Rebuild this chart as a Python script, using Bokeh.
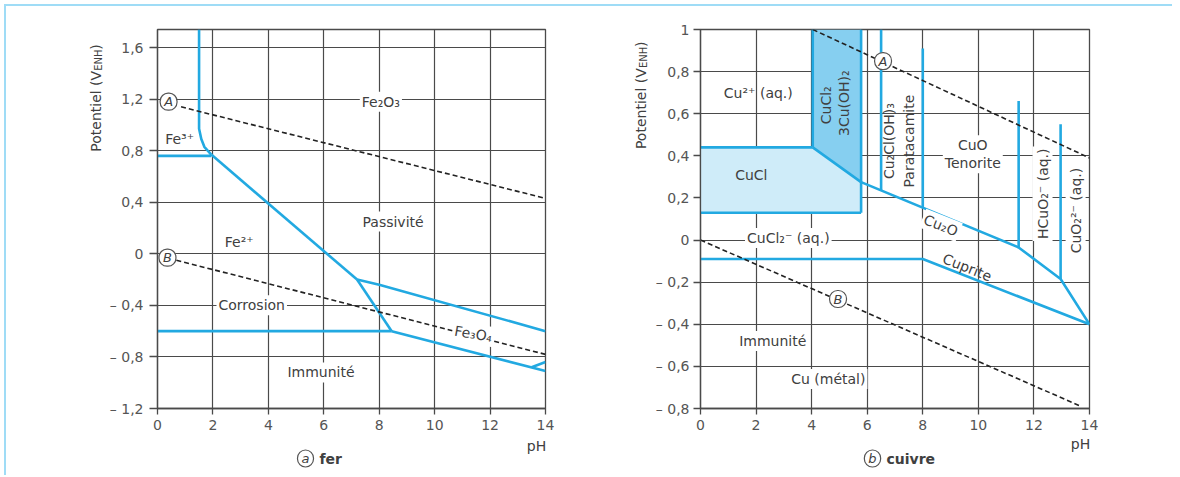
import math
from bokeh.plotting import figure
from bokeh.layouts import row, column
from bokeh.models import Label, FixedTicker, CustomJSTickFormatter, Range1d
from bokeh.embed import file_html
from bokeh.resources import INLINE

FONT = "DejaVu Sans"
BLUE = "#22a9e1"
LIGHT = "#cfecf9"
DARK = "#86cff0"
GRID = "#4a4a4a"
TEXT = "#404040"

# ---------------- data : (a) fer ----------------
fe_ph_ticks = [0, 2, 4, 6, 8, 10, 12, 14]
fe_e_ticks = [-1.2, -0.8, -0.4, 0, 0.4, 0.8, 1.2, 1.6]
fe_e_range = [-1.2, 1.74]

fe_lines_ph = [
    [1.5, 1.5, 1.58, 1.69, 1.94],      # Fe3+ / Fe2O3
    [0, 1.94],                          # Fe3+ / Fe2+
    [1.94, 7.2],                        # Fe2+ / Fe2O3
    [7.2, 8.0, 14],                     # Fe2O3 / Fe3O4
    [7.2, 8.45],                        # Fe2+ / Fe3O4
    [0, 8.45],                          # Fe2+ / Fe
    [8.45, 14],                         # Fe3O4 / Fe
    [13.5, 14],                         # HFeO2-
]
fe_lines_e = [
    [1.74, 0.97, 0.89, 0.83, 0.77],
    [0.76, 0.76],
    [0.77, -0.2],
    [-0.2, -0.24, -0.6],
    [-0.2, -0.6],
    [-0.6, -0.6],
    [-0.6, -0.91],
    [-0.88, -0.84],
]
fe_A_ph = [0.85, 14]
fe_A_e = [1.14, 0.43]
fe_B_ph = [0.68, 14]
fe_B_e = [-0.05, -0.78]

# ---------------- data : (b) cuivre ----------------
cu_ph_ticks = [0, 2, 4, 6, 8, 10, 12, 14]
cu_e_ticks = [-0.8, -0.6, -0.4, -0.2, 0, 0.2, 0.4, 0.6, 0.8, 1.0]
cu_e_range = [-0.8, 1.0]

cucl_poly_ph = [0, 4.04, 5.78, 5.78, 0]
cucl_poly_e = [0.44, 0.44, 0.275, 0.13, 0.13]
atac_poly_ph = [4.04, 5.78, 5.78, 4.04]
atac_poly_e = [1.0, 1.0, 0.275, 0.44]

cu_lines_ph = [
    [0, 4.04],
    [0, 5.78],
    [4.04, 4.04],
    [5.78, 5.78],
    [4.04, 5.78, 11.45, 12.96, 14],
    [0, 8, 14],
    [6.5, 6.5],
    [8, 8],
    [11.45, 11.45],
    [12.96, 12.96],
]
cu_lines_e = [
    [0.44, 0.44],
    [0.13, 0.13],
    [0.44, 1.0],
    [0.13, 1.0],
    [0.44, 0.275, -0.035, -0.185, -0.40],
    [-0.09, -0.09, -0.40],
    [0.236, 1.0],
    [0.154, 0.91],
    [-0.035, 0.66],
    [-0.185, 0.55],
]
cu_A_ph = [4.04, 14]
cu_A_e = [1.0, 0.39]
cu_B_ph = [0, 13.7]
cu_B_e = [0, -0.79]

TICKFMT = """
const v = Math.round(tick*10)/10;
const a = Math.abs(v);
const s = Number.isInteger(a) ? a.toFixed(0) : a.toFixed(1).replace('.', ',');
return (v < 0 ? '\\u2013 ' : '') + s;
"""

H = 431      # height of the chart row
CAP_H = 38   # height of the caption strip


def make_fig(width, xticks, erange, eticks, mb_left, mb_right, mb_top, mb_bottom,
             ytick_out, ystand):
    p = figure(width=width, height=H, x_range=Range1d(0, 14),
               y_range=Range1d(erange[0], erange[1]),
               output_backend="svg", toolbar_location=None,
               min_border_left=mb_left, min_border_right=mb_right,
               min_border_top=mb_top, min_border_bottom=mb_bottom)
    p.background_fill_color = "white"
    p.border_fill_color = "white"
    p.outline_line_color = GRID
    p.outline_line_width = 1.3
    xt = FixedTicker(ticks=xticks)
    yt = FixedTicker(ticks=eticks)
    p.xaxis.ticker = xt
    p.yaxis.ticker = yt
    p.xgrid.ticker = xt
    p.ygrid.ticker = yt
    p.yaxis.formatter = CustomJSTickFormatter(code=TICKFMT)
    for g in (p.xgrid, p.ygrid):
        g.grid_line_color = GRID
        g.grid_line_width = 1.2
        g.grid_line_alpha = 1.0
    for ax in (p.xaxis, p.yaxis):
        ax.axis_line_color = GRID
        ax.axis_line_width = 1.3
        ax.major_tick_line_color = GRID
        ax.major_tick_line_width = 1.3
        ax.major_tick_in = 0
        ax.minor_tick_line_color = None
        ax.major_label_text_font = FONT
        ax.major_label_text_font_size = "14px"
        ax.major_label_text_color = "#555555"
    p.xaxis.major_tick_out = 6
    p.xaxis.major_label_standoff = 5
    p.yaxis.major_tick_out = ytick_out
    p.yaxis.major_label_standoff = ystand
    return p


def helper(width, height):
    h = figure(width=width, height=height, x_range=Range1d(0, width),
               y_range=Range1d(0, height), x_axis_location=None, y_axis_location=None,
               output_backend="svg", toolbar_location=None, min_border=0)
    h.grid.visible = False
    h.outline_line_color = None
    h.background_fill_color = "white"
    h.border_fill_color = "white"
    return h


def lab(p, x, y, text, size=14, bg=False, angle=0.0, align="center",
        baseline="middle", style="normal", color=TEXT, xo=0, yo=0):
    kw = {}
    if bg:
        kw = dict(background_fill_color="white", background_fill_alpha=1.0, padding=2)
    p.add_layout(Label(x=x, y=y, text=text, text_font=FONT,
                       text_font_size=f"{size}px", text_color=color,
                       text_align=align, text_baseline=baseline,
                       text_font_style=style, angle=angle, angle_units="rad",
                       x_offset=xo, y_offset=yo, **kw))


def circ(p, x, y, text, style="italic"):
    p.add_layout(Label(x=x, y=y, text=text, text_font=FONT, text_font_size="13px",
                       text_color=TEXT, text_align="center", text_baseline="middle",
                       text_font_style=style,
                       background_fill_color="white", background_fill_alpha=1.0,
                       border_line_color="#555555", border_line_width=1.2,
                       border_radius=8,
                       padding=dict(left=4, right=4, top=1, bottom=1)))


def ylabel(p, x, y):
    lab(p, x, y, "Potentiel (V", angle=math.pi / 2, align="left")
    lab(p, x, y, "ENH", size=10, angle=math.pi / 2, align="left", xo=3, yo=81)
    lab(p, x, y, ")", angle=math.pi / 2, align="left", yo=102)


# ---------------- figure (a) ----------------
p1 = make_fig(494, fe_ph_ticks, fe_e_range, fe_e_ticks, 50, 55, 22, 29, 8, 6)
for xs, ys in zip(fe_lines_ph, fe_lines_e):
    p1.line(xs, ys, line_color=BLUE, line_width=2.6)
p1.line(fe_A_ph, fe_A_e, line_color="#222222", line_width=1.6, line_dash="5 3")
p1.line(fe_B_ph, fe_B_e, line_color="#222222", line_width=1.6, line_dash="5 3")

lab(p1, 0.8, 0.89, "Fe³⁺")
lab(p1, 2.95, 0.09, "Fe²⁺")
lab(p1, 8.06, 1.18, "Fe₂O₃", bg=True)
lab(p1, 8.5, 0.25, "Passivité", bg=True)
lab(p1, 3.4, -0.40, "Corrosion", bg=True)
lab(p1, 5.9, -0.92, "Immunité", bg=True)
lab(p1, 11.4, -0.62, "Fe₃O₄", bg=True, angle=-0.17)
circ(p1, 0.4, 1.18, "A")
circ(p1, 0.36, -0.03, "B")

# ---------------- figure (b) ----------------
p2 = make_fig(520, cu_ph_ticks, cu_e_range, cu_e_ticks, 47, 83, 23, 29, 7, 4)
p2.patch(cucl_poly_ph, cucl_poly_e, fill_color=LIGHT, line_color=None)
p2.patch(atac_poly_ph, atac_poly_e, fill_color=DARK, line_color=None)
for xs, ys in zip(cu_lines_ph, cu_lines_e):
    p2.line(xs, ys, line_color=BLUE, line_width=2.6)
p2.line(cu_A_ph, cu_A_e, line_color="#222222", line_width=1.6, line_dash="5 3")
p2.line(cu_B_ph, cu_B_e, line_color="#222222", line_width=1.6, line_dash="5 3")

lab(p2, 2.08, 0.70, "Cu²⁺ (aq.)")
lab(p2, 1.83, 0.31, "CuCl")
lab(p2, 4.52, 0.64, "CuCl₂", angle=math.pi / 2)
lab(p2, 5.17, 0.65, "3Cu(OH)₂", angle=math.pi / 2)
lab(p2, 6.78, 0.47, "Cu₂Cl(OH)₃", angle=math.pi / 2)
lab(p2, 7.5, 0.47, "Paratacamite", angle=math.pi / 2)
lab(p2, 9.8, 0.45, "CuO", bg=True)
lab(p2, 9.8, 0.365, "Tenorite", bg=True)
lab(p2, 12.31, 0.22, "HCuO₂⁻ (aq.)", angle=math.pi / 2, bg=True)
lab(p2, 13.5, 0.14, "CuO₂²⁻ (aq.)", angle=math.pi / 2, bg=True)
lab(p2, 3.16, 0.01, "CuCl₂⁻ (aq.)", bg=True)
lab(p2, 8.65, 0.07, "Cu₂O", angle=-0.38, bg=True)
lab(p2, 9.6, -0.13, "Cuprite", angle=-0.38)
lab(p2, 2.6, -0.48, "Immunité", bg=True)
lab(p2, 4.6, -0.66, "Cu (métal)", bg=True)
circ(p2, 6.57, 0.85, "A")
circ(p2, 4.95, -0.28, "B")

# ---------------- y-axis titles (narrow strips left of each chart) ----------------
yl1 = helper(100, H)
ylabel(yl1, 89, 292)
yl2 = helper(52, H)
ylabel(yl2, 40, 295)

# ---------------- caption strip ----------------
cap = helper(1166, CAP_H)
lab(cap, 530, 30, "pH")
circ(cap, 299, 17, "a")
lab(cap, 313, 17, "fer", align="left", style="bold")
lab(cap, 1074, 32, "pH")
circ(cap, 866, 17, "b")
lab(cap, 880, 17, "cuivre", align="left", style="bold")

layout = column(row(yl1, p1, yl2, p2), cap,
                styles={"margin": "4px 0 0 4px",
                        "border-top": "2px solid #9fdcf6",
                        "border-left": "2px solid #9fdcf6"})

open("out.html", "w").write(file_html(layout, INLINE))
